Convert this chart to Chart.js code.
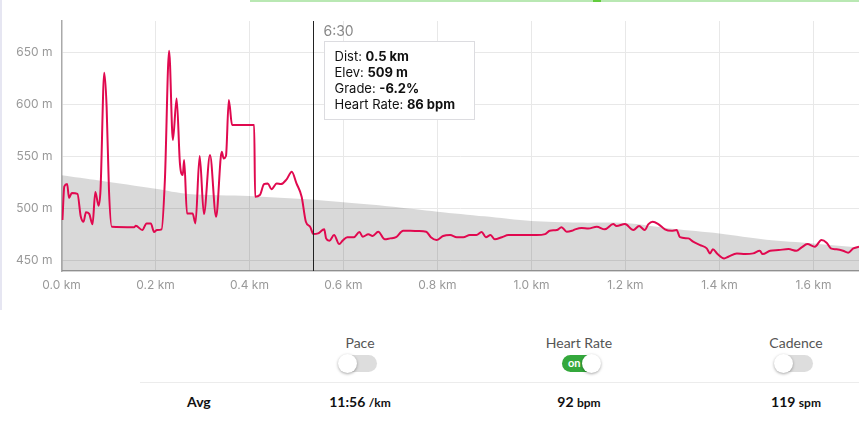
<!DOCTYPE html>
<html>
<head>
<meta charset="utf-8">
<script src="https://cdn.jsdelivr.net/npm/chart.js@4.4.1/dist/chart.umd.min.js"></script>
<style>
  body { margin: 0; background: #fff; overflow: hidden; }
  #wrap { position: relative; width: 859px; height: 436px; overflow: hidden; font-family: Lato, sans-serif; }
  #chart { position: absolute; left: 0; top: 0; }
  .topbar { position: absolute; top: 0; left: 250px; width: 609px; height: 2px; background: #b9e8b3; }
  .topbar i { position: absolute; left: 343px; top: 0; width: 8px; height: 2px; background: #62cc3d; }
  .leftbar { position: absolute; top: 0; left: 0; width: 2px; height: 310px; background: #e6e6f2; }
  .col { position: absolute; width: 140px; text-align: center; }
  .lbl { top: 334px; font-size: 14px; color: #555; }
  .tog { position: absolute; top: 355px; width: 38px; height: 17px; border-radius: 9px; background: #ddd; }
  .tog.on { background: #34a83c; }
  .tog .knob { position: absolute; top: -1px; left: -1px; width: 19px; height: 19px; border-radius: 50%; background: #fff; box-shadow: 0 1px 3px rgba(0,0,0,0.35); }
  .tog.on .knob { left: 20px; }
  .tog .txt { position: absolute; left: 6px; top: 1px; font-size: 11px; font-weight: bold; color: #fff; }
  .divider { position: absolute; top: 382px; left: 140px; width: 719px; height: 1px; background: #ececec; }
  .val { top: 393px; font-size: 14px; font-weight: bold; color: #111; }
  .val small { font-size: 12px; font-weight: bold; }
  .avg { position: absolute; left: 187px; top: 393px; font-size: 14px; font-weight: bold; color: #111; }
</style>
</head>
<body>
<div id="wrap">
  <div class="topbar"><i></i></div>
  <div class="leftbar"></div>
  <canvas id="chart" width="859" height="300"></canvas>

  <div class="col lbl" style="left:290px">Pace</div>
  <div class="tog" style="left:339px"><div class="knob"></div></div>
  <div class="col lbl" style="left:509px">Heart Rate</div>
  <div class="tog on" style="left:562px"><span class="txt">on</span><div class="knob"></div></div>
  <div class="col lbl" style="left:726px">Cadence</div>
  <div class="tog" style="left:775px"><div class="knob"></div></div>

  <div class="divider"></div>
  <div class="avg">Avg</div>
  <div class="col val" style="left:290px">11:56 <small>/km</small></div>
  <div class="col val" style="left:509px">92 <small>bpm</small></div>
  <div class="col val" style="left:726px">119 <small>spm</small></div>
</div>

<script>
const ctx = document.getElementById("chart").getContext("2d");

// Elevacion (km, m)
const elevKm = [0, 0.08, 0.2, 0.27, 0.4, 0.55, 0.6, 0.7, 0.8, 0.9, 1.0, 1.1, 1.2, 1.3, 1.4, 1.5, 1.6, 1.71];
const elevM = [532, 527, 519, 514, 512, 508, 506, 502, 497, 492.5, 488, 486.5, 486, 480.5, 476, 470, 466.5, 462];

// Frecuencia cardiaca (km, bpm)
const hrKm = [0.002, 0.006, 0.012, 0.016, 0.022, 0.034, 0.041, 0.047, 0.052, 0.059, 0.066, 0.072, 0.079, 0.083, 0.091, 0.096, 0.101, 0.107,
  0.155, 0.158, 0.172, 0.181, 0.19, 0.197, 0.203, 0.213, 0.22, 0.229, 0.237, 0.245, 0.252, 0.258, 0.261, 0.267, 0.279, 0.285,
  0.294, 0.303, 0.316, 0.329, 0.341, 0.345, 0.35, 0.356, 0.363, 0.41, 0.412, 0.422, 0.431, 0.439, 0.447, 0.458, 0.467, 0.479,
  0.49, 0.5, 0.511, 0.52, 0.529, 0.536, 0.546, 0.559, 0.563, 0.57, 0.58, 0.591, 0.598, 0.608, 0.622, 0.634, 0.641, 0.653,
  0.662, 0.674, 0.688, 0.699, 0.712, 0.727, 0.742, 0.759, 0.776, 0.786, 0.798, 0.812, 0.827, 0.841, 0.855, 0.869, 0.883,
  0.894, 0.903, 0.913, 0.922, 0.937, 0.951, 0.965, 0.979, 0.997, 1.011, 1.029, 1.039, 1.054, 1.064, 1.075, 1.086, 1.093,
  1.107, 1.121, 1.139, 1.156, 1.174, 1.181, 1.199, 1.217, 1.229, 1.241, 1.249, 1.258, 1.27, 1.284, 1.298, 1.309, 1.316,
  1.334, 1.344, 1.359, 1.373, 1.38, 1.386, 1.396, 1.41, 1.419, 1.437, 1.455, 1.472, 1.486, 1.492, 1.508, 1.526, 1.547,
  1.564, 1.575, 1.587, 1.603, 1.617, 1.628, 1.637, 1.649, 1.663, 1.674, 1.685, 1.697, 1.71];
const hrBpm = [91.4, 105.5, 106.5, 100.7, 102.8, 102.4, 92.9, 90.7, 94.7, 94, 89.6, 103.2, 97.4, 104, 153.3, 139, 104, 88.6,
  88.4, 89, 87.2, 90, 90, 86.4, 87.2, 87.5, 108.2, 162.5, 125, 142.5, 115.2, 110.3, 116.6, 94.2, 94.2, 90,
  118.3, 93.9, 118.7, 92.8, 120.1, 117.3, 118.3, 141.8, 131.3, 131.3, 101.2, 101.9, 106.5, 106.8, 104.3, 106.8, 106.5, 108.5,
  111.7, 106.8, 101.2, 90.7, 88.6, 85.5, 85.8, 87.5, 83.7, 82.7, 85.1, 81.3, 82.7, 84.2, 84.2, 86.4, 84.4, 85.4,
  84.7, 86.5, 83.3, 83.7, 84.2, 86.9, 86.9, 86.8, 86.5, 84.2, 83, 84.7, 85.1, 84.2, 84.2, 85.1, 85.1,
  86.4, 84.2, 85.1, 83.3, 84.2, 85.1, 85.1, 85.1, 85.1, 85.1, 85.5, 86.9, 87.2, 88.4, 86.5, 86.9, 87.5,
  88.1, 87.8, 88.6, 87.5, 89.7, 88.9, 89.7, 87.2, 88.9, 87.2, 89.7, 90.7, 89.7, 87.5, 86.9, 87.2, 84.2,
  83.7, 82.3, 80.9, 79.5, 77.4, 79.1, 77.1, 75.3, 76, 77.4, 77.1, 77.4, 78.5, 77.1, 78.5, 78.8, 79.2,
  78.5, 79.9, 81.3, 80.2, 83, 81.9, 79.5, 79.1, 78.5, 77.7, 79.5, 80.2, 80.5];

// Cursor y tooltip
const cursorKm = 0.536;
const cursorTime = "6:30";
const tipLabels = ["Dist: ", "Elev: ", "Grade: ", "Heart Rate: "];
const tipValues = ["0.5 km", "509 m", "-6.2%", "86 bpm"];

const crosshair = {
    id: "crosshair",
    afterDatasetsDraw(chart) {
        const c = chart.ctx;
        const area = chart.chartArea;
        const x = Math.round(chart.scales.x.getPixelForValue(cursorKm)) + 0.5;
        c.save();
        c.strokeStyle = "#222";
        c.lineWidth = 1;
        c.beginPath();
        c.moveTo(x, area.top);
        c.lineTo(x, area.bottom);
        c.stroke();

        c.fillStyle = "#888";
        c.font = "14px Inter";
        c.textBaseline = "middle";
        c.fillText(cursorTime, x + 10, 32);

        const bx = x + 11, by = 41.5, bw = 150, bh = 78;
        c.fillStyle = "#fff";
        c.fillRect(bx, by, bw, bh);
        c.strokeStyle = "#dcdce0";
        c.strokeRect(bx, by, bw, bh);

        c.fillStyle = "#111";
        for (let i = 0; i < tipLabels.length; i++) {
            const ty = 57.5 + i * 16;
            c.font = "13px Inter";
            c.fillText(tipLabels[i], bx + 10, ty);
            const w = c.measureText(tipLabels[i]).width;
            c.font = "bold 13px Inter";
            c.fillText(tipValues[i], bx + 10 + w, ty);
        }
        c.restore();
    }
};

const chart = new Chart(ctx, {
    type: "line",
    data: {
        datasets: [
            {
                label: "Heart Rate",
                data: hrKm.map((k, i) => ({ x: k, y: hrBpm[i] })),
                yAxisID: "hr",
                borderColor: "#e0094f",
                borderWidth: 2,
                pointRadius: 0,
                cubicInterpolationMode: "monotone",
                fill: false,
                order: 0
            },
            {
                label: "Elevation",
                data: elevKm.map((k, i) => ({ x: k, y: elevM[i] })),
                yAxisID: "y",
                borderWidth: 0,
                borderColor: "rgba(0,0,0,0)",
                backgroundColor: "rgba(0,0,0,0.15)",
                pointRadius: 0,
                tension: 0.3,
                fill: "start",
                order: 1
            }
        ]
    },
    options: {
        responsive: false,
        animation: false,
        events: [],
        layout: { padding: { top: 21, left: 0, right: 0, bottom: 0 } },
        plugins: { legend: { display: false }, tooltip: { enabled: false } },
        scales: {
            x: {
                type: "linear",
                min: 0,
                max: 1.697,
                afterFit: (s) => { s.height = 29; },
                border: { color: "#aaa", width: 1.5 },
                grid: { color: "#e8e8e8", drawTicks: false, lineWidth: 1 },
                ticks: {
                    stepSize: 0.2,
                    includeBounds: false,
                    padding: 7,
                    color: "#999",
                    font: { family: "Inter", size: 12 },
                    callback: (v) => v.toFixed(1) + " km"
                }
            },
            y: {
                min: 440,
                max: 680,
                afterFit: (s) => { s.width = 61.5; },
                border: { color: "#aaa", width: 1.5 },
                grid: { color: "#e8e8e8", drawTicks: false },
                ticks: {
                    stepSize: 50,
                    includeBounds: false,
                    padding: 9,
                    color: "#999",
                    font: { family: "Inter", size: 12 },
                    callback: (v) => v + " m"
                }
            },
            hr: {
                display: false,
                min: 70,
                max: 175
            }
        }
    },
    plugins: [crosshair]
});
</script>
</body>
</html>
